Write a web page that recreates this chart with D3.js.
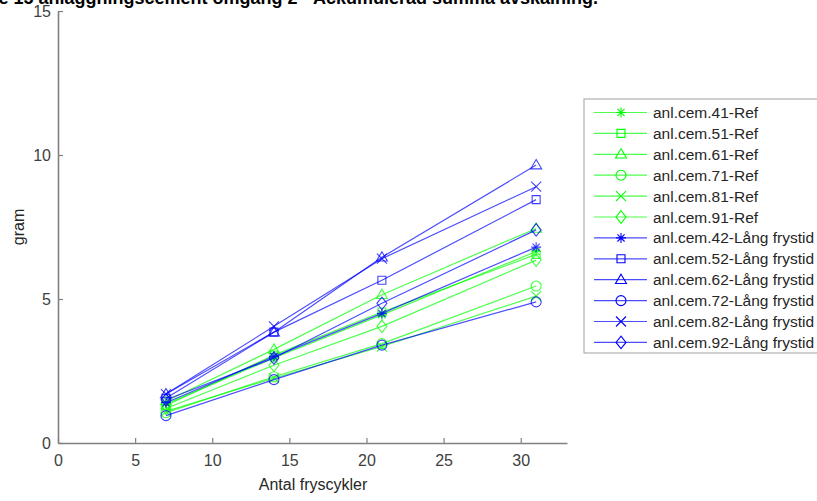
<!DOCTYPE html>
<html>
<head>
<meta charset="utf-8">
<script src="https://cdn.jsdelivr.net/npm/d3@7"></script>
<style>
  body { margin: 0; background: #fff; }
  svg { font-family: "Liberation Sans", Arial, sans-serif; }
</style>
</head>
<body>
<svg id="chart" width="817" height="501"></svg>
<script>
// Ackumulerad avskalning per fryscykel

var cycles = [7, 14, 21, 31];

var seriesNames = [
  'anl.cem.41-Ref', 'anl.cem.51-Ref', 'anl.cem.61-Ref',
  'anl.cem.71-Ref', 'anl.cem.81-Ref', 'anl.cem.91-Ref',
  'anl.cem.42-Lång frystid', 'anl.cem.52-Lång frystid', 'anl.cem.62-Lång frystid',
  'anl.cem.72-Lång frystid', 'anl.cem.82-Lång frystid', 'anl.cem.92-Lång frystid'
];

var seriesValues = [
  [1.35, 2.95, 4.45, 6.65],
  [1.30, 3.05, 4.55, 6.55],
  [1.45, 3.25, 5.15, 7.45],
  [1.05, 2.30, 3.45, 5.45],
  [1.10, 2.25, 3.35, 5.10],
  [1.20, 2.70, 4.05, 6.35],
  [1.40, 3.00, 4.50, 6.80],
  [1.55, 3.85, 5.65, 8.45],
  [1.70, 3.85, 6.45, 9.65],
  [0.95, 2.20, 3.40, 4.90],
  [1.70, 4.05, 6.40, 8.90],
  [1.50, 2.95, 4.85, 7.40]
];

var seriesMarkers = ['asterisk', 'square', 'triangle', 'circle', 'cross', 'diamond',
                     'asterisk', 'square', 'triangle', 'circle', 'cross', 'diamond'];

var seriesColors = ['#00ff00', '#00ff00', '#00ff00', '#00ff00', '#00ff00', '#00ff00',
                    '#0000ff', '#0000ff', '#0000ff', '#0000ff', '#0000ff', '#0000ff'];

var xTicks = [0, 5, 10, 15, 20, 25, 30];
var yTicks = [0, 5, 10, 15];

var svg = d3.select('#chart');

var x = d3.scaleLinear().domain([0, 33]).range([58, 567]);
var y = d3.scaleLinear().domain([0, 15]).range([443, 11]);

// Marker path for a given shape, centred at 0,0
function markerPath(shape, r) {
  var p = d3.path();
  if (shape === 'square') {
    p.rect(-r * 0.8, -r * 0.8, r * 1.6, r * 1.6);
  } else if (shape === 'triangle') {
    p.moveTo(0, -r * 1.1); p.lineTo(r * 1.1, r * 0.75); p.lineTo(-r * 1.1, r * 0.75); p.closePath();
  } else if (shape === 'circle') {
    p.moveTo(r, 0); p.arc(0, 0, r, 0, 2 * Math.PI);
  } else if (shape === 'cross') {
    p.moveTo(-r, -r); p.lineTo(r, r); p.moveTo(-r, r); p.lineTo(r, -r);
  } else if (shape === 'diamond') {
    p.moveTo(0, -r * 1.25); p.lineTo(r, 0); p.lineTo(0, r * 1.25); p.lineTo(-r, 0); p.closePath();
  } else if (shape === 'asterisk') {
    p.moveTo(0, -r); p.lineTo(0, r); p.moveTo(-r, 0); p.lineTo(r, 0);
    var d = r * 0.72;
    p.moveTo(-d, -d); p.lineTo(d, d); p.moveTo(-d, d); p.lineTo(d, -d);
  }
  return p.toString();
}

// Title (partly outside the top of the picture)
svg.append('text')
  .attr('x', 598).attr('y', 4)
  .attr('text-anchor', 'end')
  .style('font-size', '18px').style('font-weight', 'bold').style('fill', '#000')
  .text('Serie 15 anläggningscement omgång 2 - Ackumulerad summa avskalning.');

// Axes
var axisColor = '#808080';
var xAxis = svg.append('g').attr('transform', 'translate(0,443)')
  .call(d3.axisBottom(x).tickValues(xTicks).tickSizeInner(-5).tickSizeOuter(0).tickPadding(12));
var yAxis = svg.append('g').attr('transform', 'translate(58,0)')
  .call(d3.axisLeft(y).tickValues(yTicks).tickSizeInner(-5).tickSizeOuter(0).tickPadding(7));

[xAxis, yAxis].forEach(function(a) {
  a.select('.domain').attr('stroke', axisColor).attr('stroke-width', 1.6);
  a.selectAll('.tick line').attr('stroke', axisColor).attr('stroke-width', 1.2);
  a.selectAll('.tick text').style('font-size', '16px').style('fill', '#404040')
    .style('font-family', '"Liberation Sans", Arial, sans-serif');
});

svg.append('text')
  .attr('x', 313).attr('y', 490)
  .attr('text-anchor', 'middle')
  .style('font-size', '16px').style('fill', '#262626')
  .text('Antal fryscykler');

svg.append('text')
  .attr('transform', 'translate(24,227) rotate(-90)')
  .attr('text-anchor', 'middle')
  .style('font-size', '16px').style('fill', '#262626')
  .text('gram');

// Series
var line = d3.line()
  .x(function(d, i) { return x(cycles[i]); })
  .y(function(d) { return y(d); });

var plot = svg.append('g');

for (var s = 0; s < seriesValues.length; s++) {
  var g = plot.append('g');
  g.append('path')
    .attr('d', line(seriesValues[s]))
    .attr('fill', 'none')
    .attr('stroke', seriesColors[s])
    .attr('stroke-opacity', 0.7)
    .attr('stroke-width', 1.2);
  g.selectAll('path.mk')
    .data(seriesValues[s])
    .enter().append('path')
    .attr('class', 'mk')
    .attr('transform', function(d, i) { return 'translate(' + x(cycles[i]) + ',' + y(d) + ')'; })
    .attr('d', markerPath(seriesMarkers[s], 5))
    .attr('fill', 'none')
    .attr('stroke', seriesColors[s])
    .attr('stroke-opacity', 0.75)
    .attr('stroke-width', 1.1);
}

// Legend
var legend = svg.append('g').attr('transform', 'translate(584,99)');
legend.append('rect')
  .attr('x', 0).attr('y', 0).attr('width', 240).attr('height', 254)
  .attr('fill', '#fff').attr('stroke', '#a0a0a0').attr('stroke-width', 1);

var rows = legend.selectAll('g.row')
  .data(seriesNames)
  .enter().append('g')
  .attr('class', 'row')
  .attr('transform', function(d, i) { return 'translate(0,' + (13.5 + i * 20.9) + ')'; });

rows.append('line')
  .attr('x1', 10).attr('x2', 63).attr('y1', 0).attr('y2', 0)
  .attr('stroke', function(d, i) { return seriesColors[i]; })
  .attr('stroke-opacity', 0.7)
  .attr('stroke-width', 1.2);

rows.append('path')
  .attr('transform', 'translate(37,0)')
  .attr('d', function(d, i) { return markerPath(seriesMarkers[i], 5); })
  .attr('fill', 'none')
  .attr('stroke', function(d, i) { return seriesColors[i]; })
  .attr('stroke-width', 1.1);

rows.append('text')
  .attr('x', 69).attr('y', 0).attr('dy', '0.36em')
  .style('font-size', '15.5px').style('fill', '#262626')
  .text(function(d) { return d; });
</script>
</body>
</html>
